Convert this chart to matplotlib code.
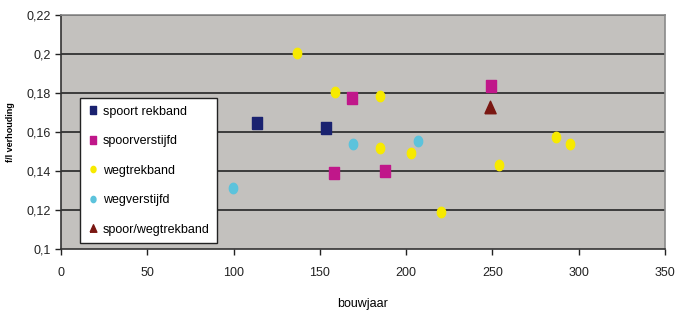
import numpy as np
import matplotlib
matplotlib.use('Agg')
import matplotlib.pyplot as plt

plt.rcParams['font.family'] = ['Liberation Sans', 'DejaVu Sans']

# data
spoor_rek_x = [113.8, 153.4]
spoor_rek_y = [0.1648, 0.1622]

spoor_verst_x = [168.8, 158.4, 187.6, 249.2]
spoor_verst_y = [0.1774, 0.1388, 0.1400, 0.1836]

weg_rek_x = [136.9, 158.6, 184.9, 184.9, 202.6, 220.2, 253.6, 286.8, 294.9]
weg_rek_y = [0.2007, 0.1807, 0.1786, 0.1516, 0.1494, 0.1190, 0.1432, 0.1574, 0.1538]

weg_verst_x = [99.8, 169.0, 206.7]
weg_verst_y = [0.1314, 0.1538, 0.1552]

spoorweg_rek_x = [248.4]
spoorweg_rek_y = [0.1727]

x_ticks = [0, 50, 100, 150, 200, 250, 300, 350]
y_ticks = [0.10, 0.12, 0.14, 0.16, 0.18, 0.20, 0.22]
y_tick_labels = ['0,1', '0,12', '0,14', '0,16', '0,18', '0,2', '0,22']

# markers are a bit taller than wide in the original
rect = [(-0.75, -1), (0.75, -1), (0.75, 1), (-0.75, 1), (-0.75, -1)]
t = np.linspace(0, 2 * np.pi, 40)
ellipse = list(zip(0.8 * np.cos(t), np.sin(t)))
tri = [(-0.9, -1), (0.9, -1), (0, 1), (-0.9, -1)]

fig = plt.figure(figsize=(6.77, 3.2), dpi=100)
ax = fig.add_axes([61 / 677, 71 / 320, 604 / 677, 234 / 320])
ax.set_facecolor('#c3c1be')

for y in y_ticks[1:]:
    ax.axhline(y, color='#3c3c3c', lw=1.4, zorder=1)

ax.plot(spoor_rek_x, spoor_rek_y, ls='none', marker=rect, ms=9, color='#1a2270',
        label='spoort rekband', zorder=3)
ax.plot(spoor_verst_x, spoor_verst_y, ls='none', marker=rect, ms=9, color='#c0178a',
        label='spoorverstijfd', zorder=3)
ax.plot(weg_rek_x, weg_rek_y, ls='none', marker=ellipse, ms=7.5, color='#f7ea00',
        label='wegtrekband', zorder=3)
ax.plot(weg_verst_x, weg_verst_y, ls='none', marker=ellipse, ms=7.5, color='#5cc3dc',
        label='wegverstijfd', zorder=3)
ax.plot(spoorweg_rek_x, spoorweg_rek_y, ls='none', marker=tri, ms=9, color='#7a1712',
        label='spoor/wegtrekband', zorder=3)

ax.set_xlim(0, 350)
ax.set_ylim(0.1, 0.22)
ax.set_xticks(x_ticks)
ax.set_yticks(y_ticks)
ax.set_yticklabels(y_tick_labels)
ax.tick_params(direction='out', length=4, width=1, labelsize=9, colors='#222222')
ax.tick_params(axis='x', pad=9)

for s in ['top', 'right']:
    ax.spines[s].set_color('#8a8a8a')
    ax.spines[s].set_linewidth(1.2)
for s in ['left', 'bottom']:
    ax.spines[s].set_color('#333333')
    ax.spines[s].set_linewidth(1.2)

ax.set_xlabel('bouwjaar', fontsize=9, labelpad=14)
ax.set_ylabel('f/l verhouding', fontsize=6.5, fontweight='bold', labelpad=8)

leg = ax.legend(loc='lower left', bbox_to_anchor=(0.0315, 0.0256), borderaxespad=0,
                fontsize=9, markerscale=0.6, labelspacing=1.4, handlelength=0.8,
                handletextpad=0.4, borderpad=0.6, fancybox=False, framealpha=1,
                edgecolor='#222222')
leg.get_frame().set_linewidth(1.0)

fig.savefig('out.png', dpi=100)
